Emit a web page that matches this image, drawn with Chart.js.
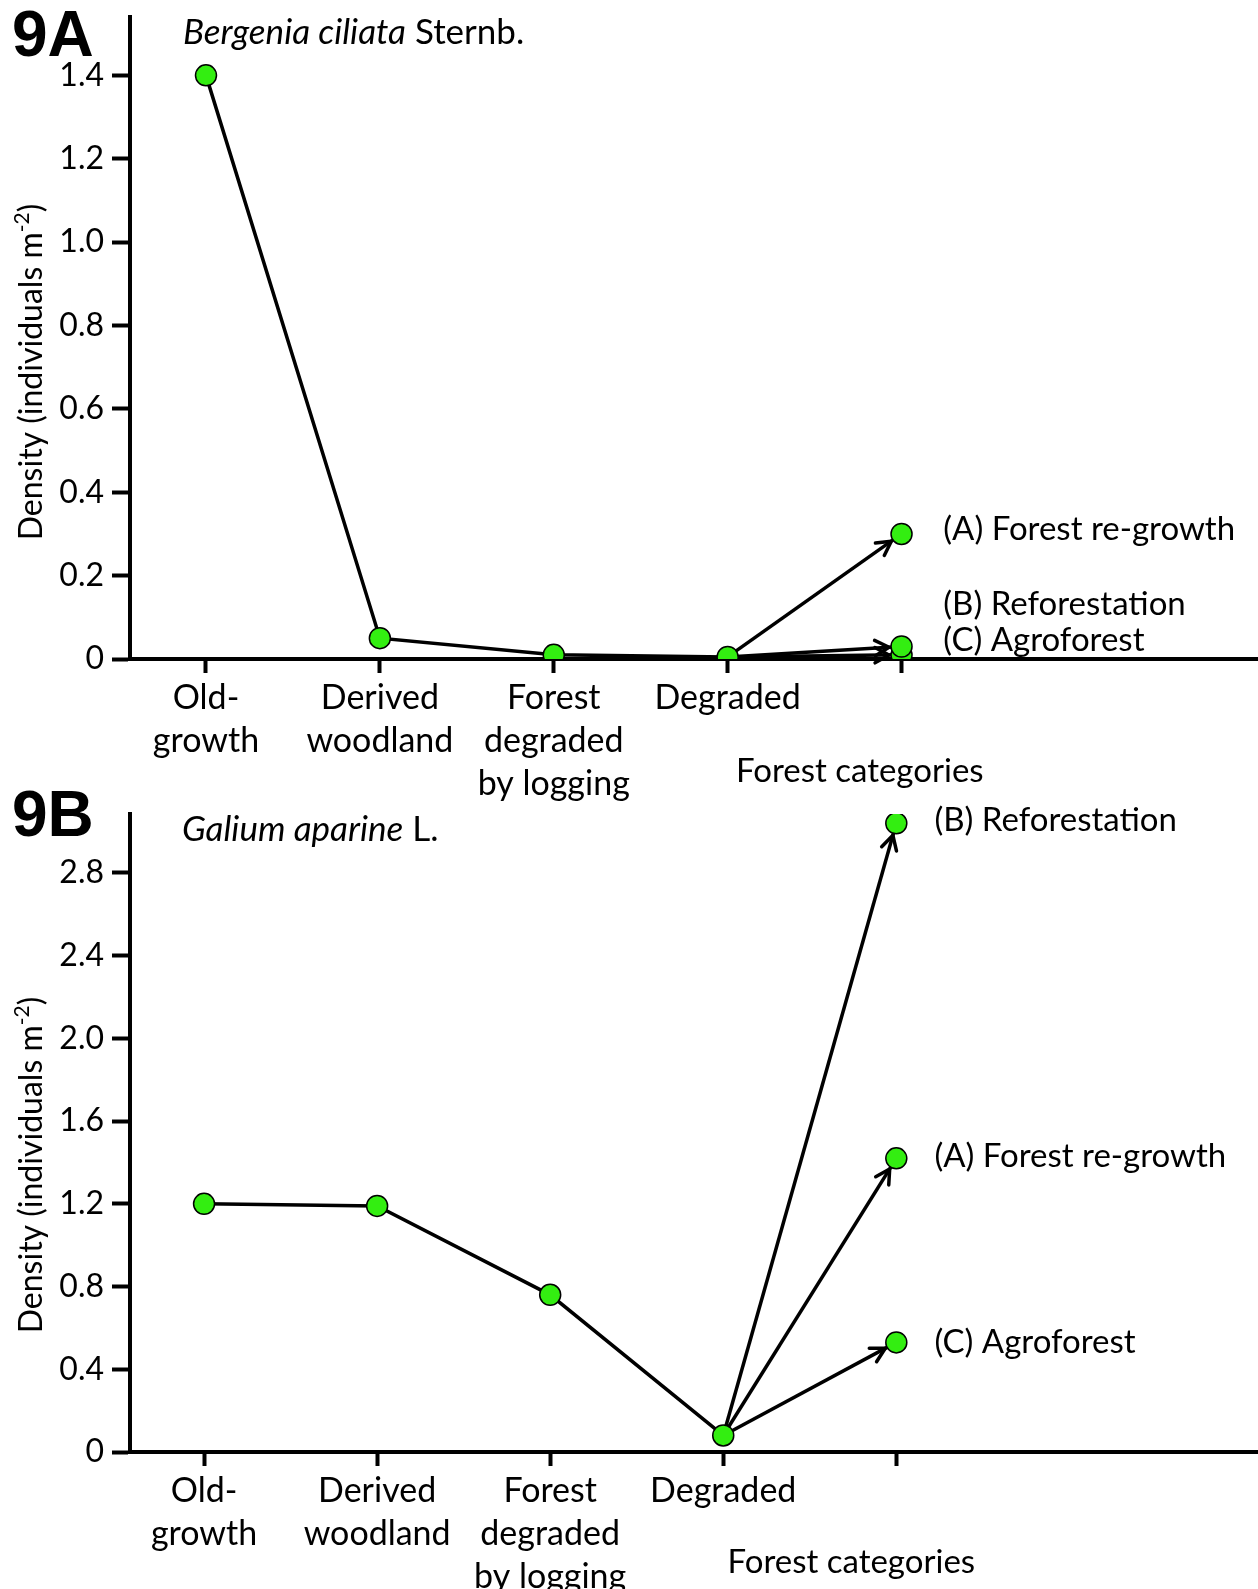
<!DOCTYPE html>
<html><head><meta charset="utf-8">
<script src="https://cdn.jsdelivr.net/npm/chart.js@4"></script>
<style>
html,body{margin:0;padding:0;background:#fff;}
#wrap{position:relative;width:1258px;height:1589px;overflow:hidden;}
.box{position:absolute;left:0;width:1258px;}
</style></head><body>
<div id="wrap">
<div class="box" style="top:0;height:815px"><canvas id="cA"></canvas></div>
<div class="box" style="top:790px;height:799px"><canvas id="cB"></canvas></div>
</div>
<script>
// ---- data ----
const categories = [["Old-","growth"],["Derived","woodland"],["Forest","degraded","by logging"],["Degraded"],""];
const branchLabels = ["(A) Forest re-growth","(B) Reforestation","(C) Agroforest"];
const densityA = [1.40, 0.05, 0.01, 0.005];
const branchA = [0.30, 0.03, 0.01];
const densityB = [1.20, 1.19, 0.76, 0.08];
const branchB = [1.42, 3.04, 0.53];
const yTicksA = [0, 0.2, 0.4, 0.6, 0.8, 1.0, 1.2, 1.4];
const yTicksB = [0, 0.4, 0.8, 1.2, 1.6, 2.0, 2.4, 2.8];

const FONT = 'Lato, "Open Sans", "Noto Sans", sans-serif';
const GREEN = '#33ee11';
const PR = 10.5;

Chart.defaults.font.family = FONT;
Chart.defaults.color = '#000';

const annotPlugin = {
  id: 'annot',
  afterDatasetsDraw(chart, args, opts) {
    const ctx = chart.ctx;
    chart.data.datasets.forEach((ds, di) => {
      if (!ds.isBranch) return;
      const meta = chart.getDatasetMeta(di);
      const a = meta.data[0], b = meta.data[1];
      const ang = Math.atan2(b.y - a.y, b.x - a.x);
      const r = PR + 2;
      const tx = b.x - Math.cos(ang) * r, ty = b.y - Math.sin(ang) * r;
      const L = 16, spread = 0.5;
      ctx.save();
      ctx.strokeStyle = '#000'; ctx.lineWidth = 3.5; ctx.lineCap = 'round'; ctx.lineJoin = 'round';
      ctx.beginPath();
      ctx.moveTo(tx + Math.cos(ang + Math.PI - spread) * L, ty + Math.sin(ang + Math.PI - spread) * L);
      ctx.lineTo(tx, ty);
      ctx.lineTo(tx + Math.cos(ang + Math.PI + spread) * L, ty + Math.sin(ang + Math.PI + spread) * L);
      ctx.stroke();
      ctx.restore();
    });
  },
  afterDraw(chart, args, o) {
    const ctx = chart.ctx;
    const xs = chart.scales.x, ys = chart.scales.y;
    ctx.save();
    ctx.fillStyle = '#000';
    // panel letter
    ctx.font = 'bold 64px "Liberation Sans", Arial, sans-serif';
    ctx.textAlign = 'left'; ctx.textBaseline = 'alphabetic';
    ctx.fillText(o.panel, 12, o.panelY);
    // species title
    ctx.textBaseline = 'middle';
    let x = o.titleX;
    for (const [txt, style] of o.title) {
      ctx.font = style + ' 35px ' + FONT;
      ctx.fillText(txt, x, o.titleY);
      x += ctx.measureText(txt).width;
    }
    // branch labels
    ctx.font = '33px ' + FONT;
    o.labels.forEach((t, i) => {
      ctx.fillText(t, xs.getPixelForValue(o.labelX), ys.getPixelForValue(o.labelY[i]));
    });
    // x axis title
    ctx.textAlign = 'center';
    ctx.fillText('Forest categories', xs.getPixelForValue(o.xTitleX), chart.chartArea.bottom + o.xTitleDy);
    // y axis title with superscript
    ctx.translate(32, o.yTitleY);
    ctx.rotate(-Math.PI / 2);
    const parts = [['Density (individuals m', 32, 0], ['-2', 21, -10], [')', 32, 0]];
    let tot = 0;
    for (const [t, s] of parts) { ctx.font = s + 'px ' + FONT; tot += ctx.measureText(t).width; }
    let px = -tot / 2;
    ctx.textAlign = 'left';
    for (const [t, s, dy] of parts) {
      ctx.font = s + 'px ' + FONT;
      ctx.fillText(t, px, dy);
      px += ctx.measureText(t).width;
    }
    ctx.restore();
  }
};

function makeChart(id, main, branch, yTicks, g) {
  const datasets = [{
    data: main.map((v, i) => ({x: i, y: v})),
    borderColor: '#000', borderWidth: 3.5, tension: 0,
    pointRadius: PR, pointBackgroundColor: GREEN, pointBorderColor: '#000', pointBorderWidth: 1.5
  }];
  branch.forEach(v => {
    datasets.push({
      isBranch: true,
      data: [{x: main.length - 1, y: main[main.length - 1]}, {x: categories.length - 1, y: v}],
      borderColor: '#000', borderWidth: 3.5, tension: 0,
      pointRadius: [0, PR], pointBackgroundColor: GREEN, pointBorderColor: '#000', pointBorderWidth: 1.5
    });
  });
  return new Chart(document.getElementById(id), {
    type: 'line',
    data: {datasets},
    plugins: [annotPlugin],
    options: {
      responsive: true, maintainAspectRatio: false, animation: false, devicePixelRatio: 1,
      layout: {autoPadding: false, padding: {top: g.top, right: 0, left: 0, bottom: 0}},
      plugins: {
        legend: {display: false}, tooltip: {enabled: false},
        annot: g.annot
      },
      scales: {
        x: {
          type: 'linear', min: g.xmin, max: g.xmax,
          afterBuildTicks: s => { s.ticks = categories.map((c, i) => ({value: i})); },
          afterFit: s => { s.height = g.xh; s.paddingLeft = 0; s.paddingRight = 0; s.paddingTop = 0; s.paddingBottom = 0; },
          ticks: {callback: v => categories[v] ?? '', autoSkip: false, maxRotation: 0,
                  font: {size: 34, lineHeight: 1.27}, color: '#000', padding: 3},
          grid: {drawOnChartArea: false, drawTicks: true, tickLength: 14, tickWidth: 4, tickColor: '#000'},
          border: {display: true, color: '#000', width: 4}
        },
        y: {
          min: 0, max: g.ymax,
          afterBuildTicks: s => { s.ticks = yTicks.map(v => ({value: v})); },
          afterFit: s => { s.width = 130; s.paddingTop = 0; s.paddingBottom = 0; s.paddingLeft = 0; s.paddingRight = 0; },
          ticks: {callback: v => v === 0 ? '0' : v.toFixed(1), font: {size: 32}, color: '#000', padding: 8},
          grid: {drawOnChartArea: false, drawTicks: true, tickLength: 18, tickWidth: 4, tickColor: '#000'},
          border: {display: true, color: '#000', width: 4}
        }
      }
    }
  });
}

makeChart('cA', densityA, branchA, yTicksA, {
  top: 17, xh: 156, ymax: 1.54, xmin: -0.437, xmax: 6.05,
  annot: {panel: '9A', panelY: 56, title: [['Bergenia ciliata', 'italic'], [' Sternb.', 'normal']],
          titleX: 183, titleY: 33, labels: branchLabels, labelX: 4.24, labelY: [0.31, 0.13, 0.045],
          xTitleX: 3.76, xTitleDy: 112, yTitleY: 372}
});
makeChart('cB', densityB, branchB, yTicksB, {
  top: 24, xh: 137, ymax: 3.085, xmin: -0.428, xmax: 6.09,
  annot: {panel: '9B', panelY: 46, title: [['Galium aparine', 'italic'], [' L.', 'normal']],
          titleX: 182, titleY: 40, labels: branchLabels, labelX: 4.22, labelY: [1.43, 3.055, 0.53],
          xTitleX: 3.74, xTitleDy: 110, yTitleY: 375}
});
</script>
</body></html>
